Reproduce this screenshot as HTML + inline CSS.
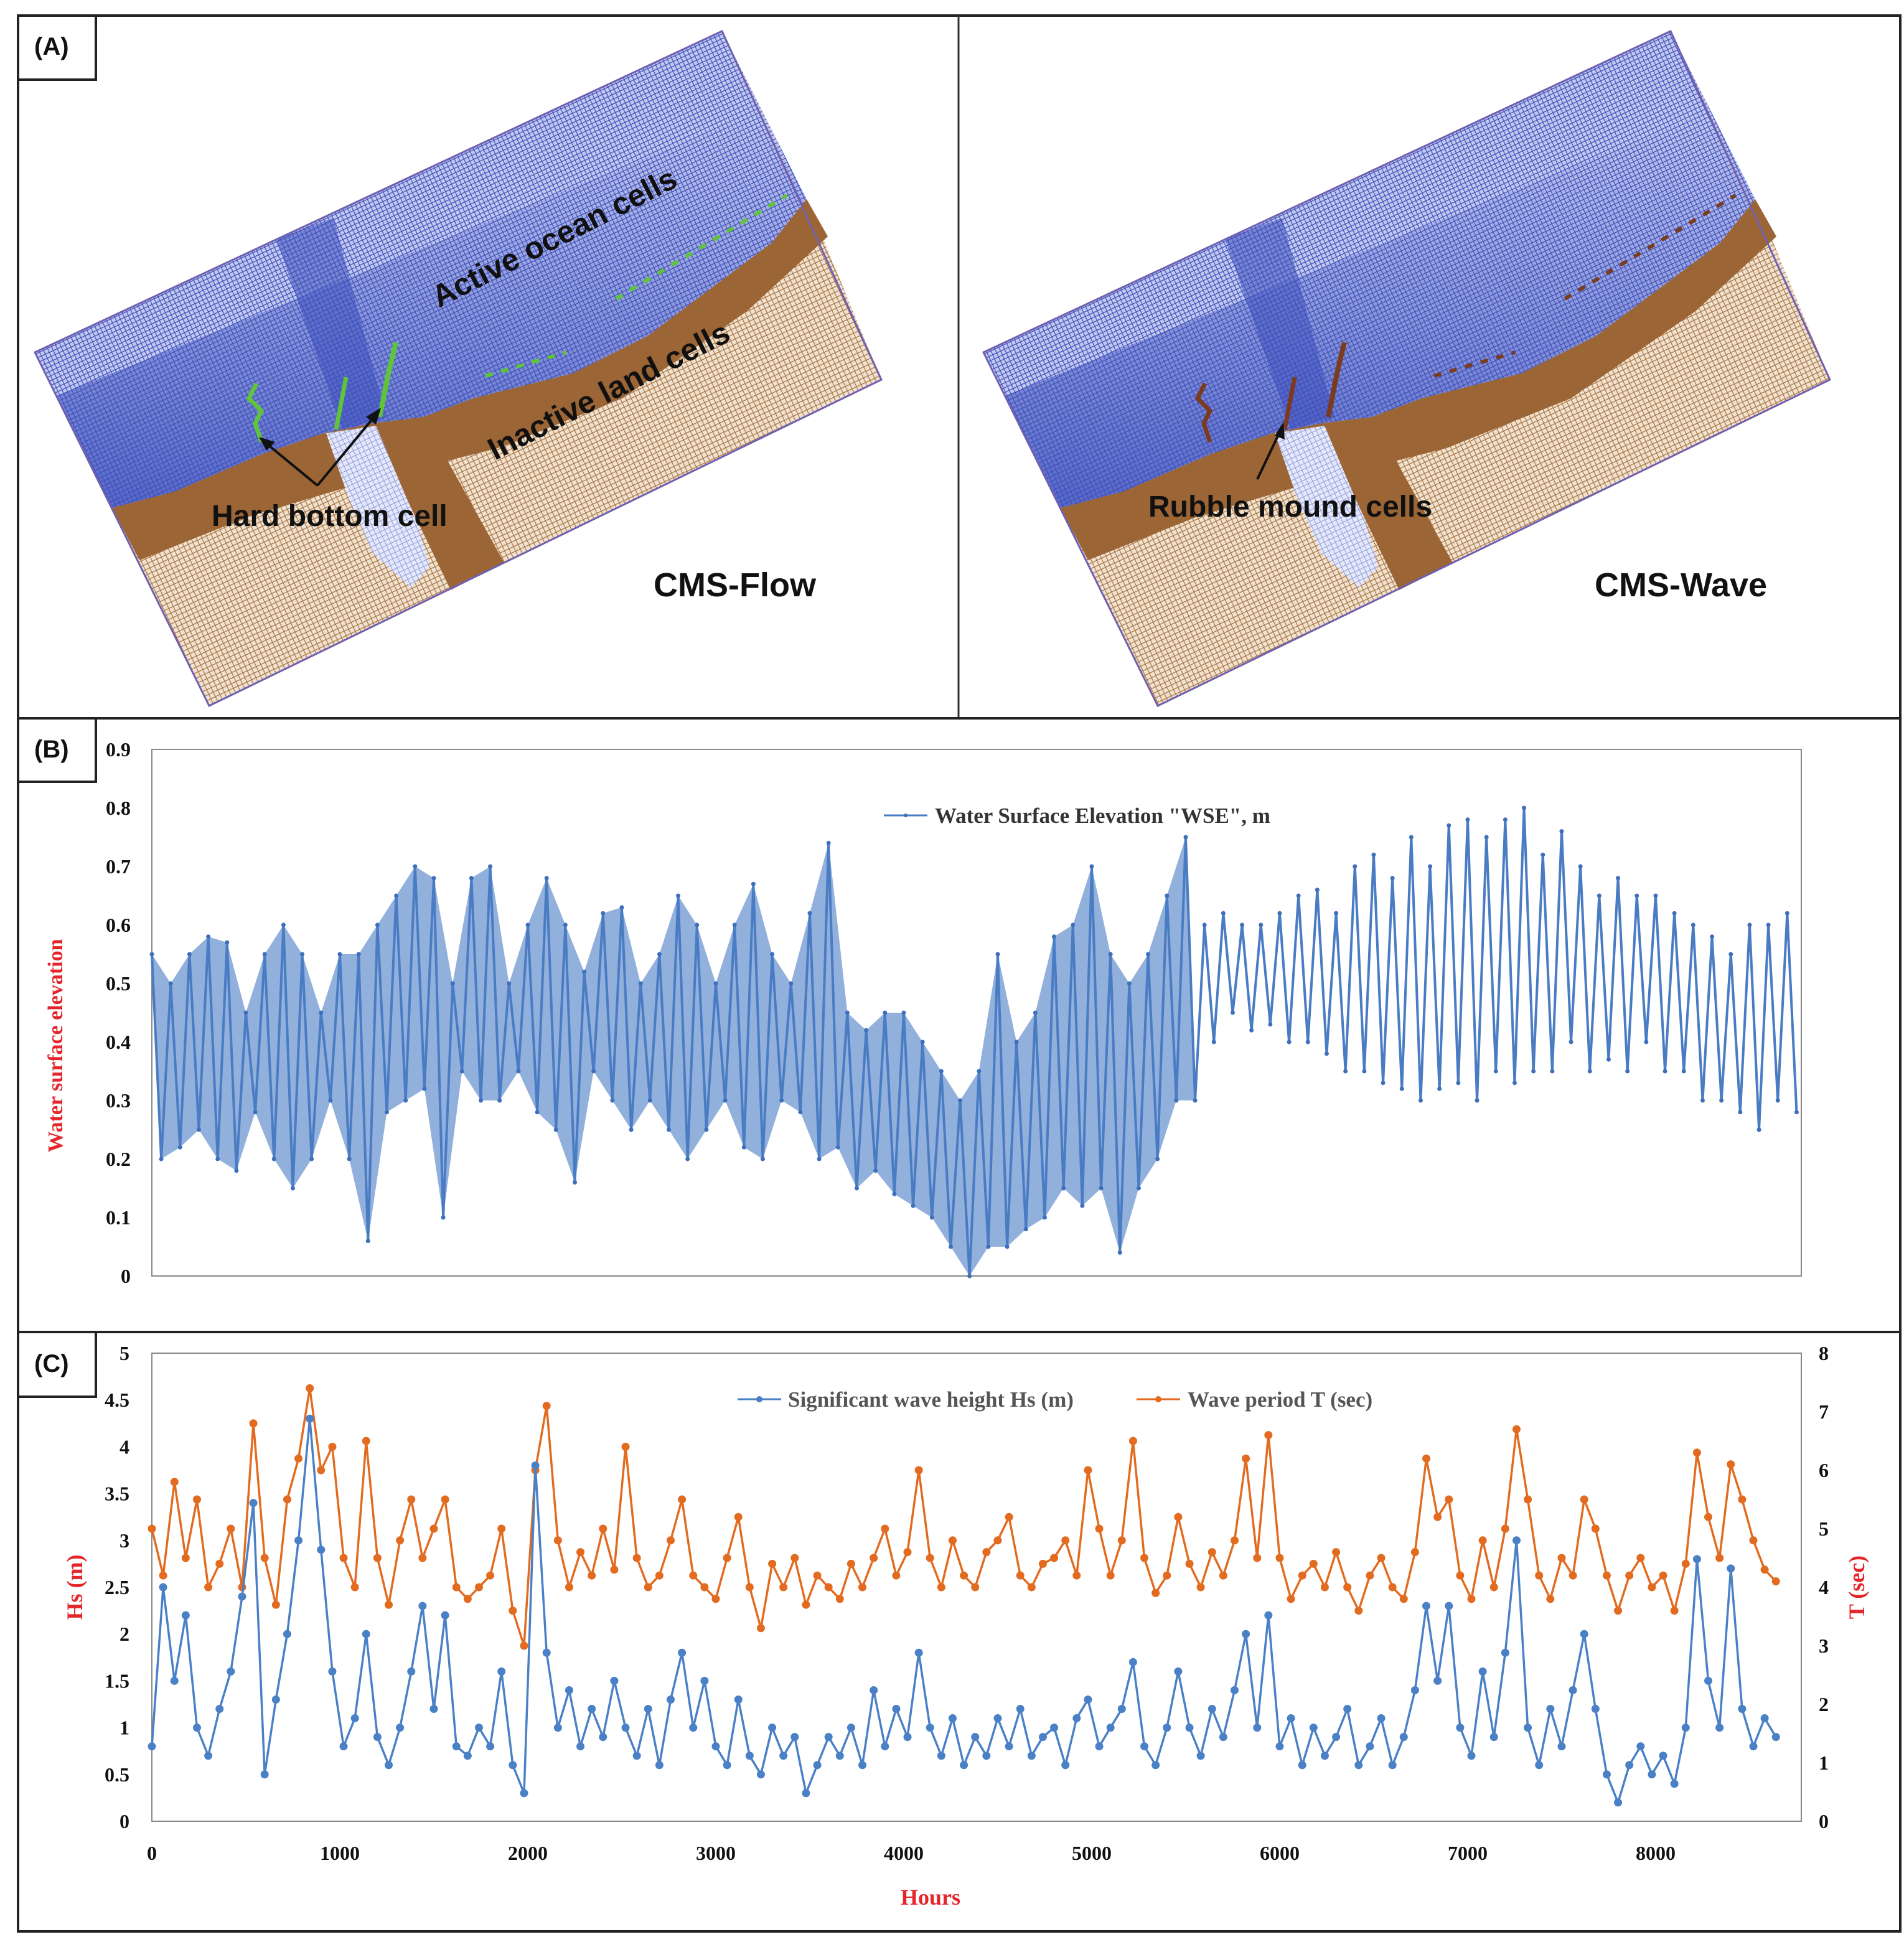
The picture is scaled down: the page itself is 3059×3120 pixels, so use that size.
<!DOCTYPE html>
<html><head><meta charset="utf-8"><style>
html,body{margin:0;padding:0;background:#fff}
svg{display:block}
</style></head><body>
<svg id="root" xmlns="http://www.w3.org/2000/svg" width="3059" height="3120" viewBox="0 0 3059 3120">
<defs>
<pattern id="oceanGrid" width="7" height="7" patternUnits="userSpaceOnUse" patternTransform="rotate(-25)">
<rect width="7" height="7" fill="#c2c8ee"/>
<path d="M0 0H7M0 0V7" stroke="#3c4fbc" stroke-width="2.4"/>
</pattern>
<pattern id="landGrid" width="8" height="8" patternUnits="userSpaceOnUse" patternTransform="rotate(-25)">
<rect width="8" height="8" fill="#f0e2d0"/>
<path d="M0 0H8M0 0V8" stroke="#a8733f" stroke-width="2.4"/>
</pattern>
<pattern id="channelGrid" width="8" height="8" patternUnits="userSpaceOnUse" patternTransform="rotate(-25)">
<rect width="8" height="8" fill="#e4e8f8"/>
<path d="M0 0H8M0 0V8" stroke="#8e9ade" stroke-width="2"/>
</pattern>
<linearGradient id="coastShade" x1="0" y1="0" x2="0" y2="1">
<stop offset="0" stop-color="#3c4fbc" stop-opacity="0"/>
<stop offset="1" stop-color="#3c4fbc" stop-opacity="0.8"/>
</linearGradient>
</defs>
<rect x="29" y="25" width="3024" height="3078" fill="none" stroke="#222" stroke-width="4"/>
<line x1="1540" y1="25" x2="1540" y2="1154" stroke="#333" stroke-width="3"/>
<line x1="29" y1="1154" x2="3053" y2="1154" stroke="#222" stroke-width="4"/>
<line x1="29" y1="2140" x2="3053" y2="2140" stroke="#222" stroke-width="4"/>

<g id="gridA"></g>
<g id="gridB"></g>

<g font-family="Liberation Sans, Arial, sans-serif" font-weight="bold" fill="#111">
<text x="0" y="0" font-size="50" transform="translate(705,495) rotate(-27)">Active ocean cells</text>
<text x="0" y="0" font-size="50" transform="translate(795,740) rotate(-27)">Inactive land cells</text>
<text x="340" y="845" font-size="48">Hard bottom cell</text>
<text x="1050" y="958" font-size="54">CMS-Flow</text>
<text x="1845" y="830" font-size="48">Rubble mound cells</text>
<text x="2562" y="958" font-size="54">CMS-Wave</text>
</g>
<g stroke="#111" stroke-width="4" fill="none">
<line x1="510" y1="780" x2="425" y2="710"/><line x1="510" y1="780" x2="605" y2="665"/>
<line x1="2020" y1="770" x2="2058" y2="690"/>
</g>
<g fill="#111"><polygon points="416,702 442,710 428,724"/><polygon points="612,655 604,682 588,670"/><polygon points="2062,678 2064,706 2048,700"/></g>

<g font-family="Liberation Sans, Arial, sans-serif" font-weight="bold" font-size="40" fill="#111">
<rect x="29" y="25" width="125" height="103" fill="#fff" stroke="#222" stroke-width="4"/>
<text x="55" y="88">(A)</text>
<rect x="29" y="1154" width="125" height="102" fill="#fff" stroke="#222" stroke-width="4"/>
<text x="55" y="1217">(B)</text>
<rect x="29" y="2140" width="125" height="104" fill="#fff" stroke="#222" stroke-width="4"/>
<text x="55" y="2204">(C)</text>
</g>

<g id="chartB"></g>
<g id="chartC"></g>
</svg>
<script>
// ===== Panel B data: water surface elevation envelope (per 100 h; hi at h, lo at h+50)
const wseStartHour = 0;
const wseStepHours = 100;
const wseDenseUntilHour = 5500;
const wseHi = [.55,.5,.55,.58,.57,.45,.55,.6,.55,.45,.55,.55,.6,.65,.7,.68,.5,.68,.7,.5,.6,.68,.6,.52,.62,.63,.5,.55,.65,.6,.5,.6,.67,.55,.5,.62,.74,.45,.42,.45,.45,.4,.35,.3,.35,.55,.4,.45,.58,.6,.7,.55,.5,.55,.65,.75,.6,.62,.6,.6,.62,.65,.66,.62,.7,.72,.68,.75,.7,.77,.78,.75,.78,.8,.72,.76,.7,.65,.68,.65,.65,.62,.6,.58,.55,.6,.6,.62];
const wseLo = [.2,.22,.25,.2,.18,.28,.2,.15,.2,.3,.2,.06,.28,.3,.32,.1,.35,.3,.3,.35,.28,.25,.16,.35,.3,.25,.3,.25,.2,.25,.3,.22,.2,.3,.28,.2,.22,.15,.18,.14,.12,.1,.05,0,.05,.05,.08,.1,.15,.12,.15,.04,.15,.2,.3,.3,.4,.45,.42,.43,.4,.4,.38,.35,.35,.33,.32,.3,.32,.33,.3,.35,.33,.35,.35,.4,.35,.37,.35,.4,.35,.35,.3,.3,.28,.25,.3,.28];
const wseTicks = ["0","0.1","0.2","0.3","0.4","0.5","0.6","0.7","0.8","0.9"];

// ===== Panel C data (per 60 h)
const waveStartHour = 0;
const waveStepHours = 60;
const hsValues = [0.8,2.5,1.5,2.2,1.0,0.7,1.2,1.6,2.4,3.4,0.5,1.3,2.0,3.0,4.3,2.9,1.6,0.8,1.1,2.0,0.9,0.6,1.0,1.6,2.3,1.2,2.2,0.8,0.7,1.0,0.8,1.6,0.6,0.3,3.8,1.8,1.0,1.4,0.8,1.2,0.9,1.5,1.0,0.7,1.2,0.6,1.3,1.8,1.0,1.5,0.8,0.6,1.3,0.7,0.5,1.0,0.7,0.9,0.3,0.6,0.9,0.7,1.0,0.6,1.4,0.8,1.2,0.9,1.8,1.0,0.7,1.1,0.6,0.9,0.7,1.1,0.8,1.2,0.7,0.9,1.0,0.6,1.1,1.3,0.8,1.0,1.2,1.7,0.8,0.6,1.0,1.6,1.0,0.7,1.2,0.9,1.4,2.0,1.0,2.2,0.8,1.1,0.6,1.0,0.7,0.9,1.2,0.6,0.8,1.1,0.6,0.9,1.4,2.3,1.5,2.3,1.0,0.7,1.6,0.9,1.8,3.0,1.0,0.6,1.2,0.8,1.4,2.0,1.2,0.5,0.2,0.6,0.8,0.5,0.7,0.4,1.0,2.8,1.5,1.0,2.7,1.2,0.8,1.1,0.9];
const tValues = [5.0,4.2,5.8,4.5,5.5,4.0,4.4,5.0,4.0,6.8,4.5,3.7,5.5,6.2,7.4,6.0,6.4,4.5,4.0,6.5,4.5,3.7,4.8,5.5,4.5,5.0,5.5,4.0,3.8,4.0,4.2,5.0,3.6,3.0,6.0,7.1,4.8,4.0,4.6,4.2,5.0,4.3,6.4,4.5,4.0,4.2,4.8,5.5,4.2,4.0,3.8,4.5,5.2,4.0,3.3,4.4,4.0,4.5,3.7,4.2,4.0,3.8,4.4,4.0,4.5,5.0,4.2,4.6,6.0,4.5,4.0,4.8,4.2,4.0,4.6,4.8,5.2,4.2,4.0,4.4,4.5,4.8,4.2,6.0,5.0,4.2,4.8,6.5,4.5,3.9,4.2,5.2,4.4,4.0,4.6,4.2,4.8,6.2,4.5,6.6,4.5,3.8,4.2,4.4,4.0,4.6,4.0,3.6,4.2,4.5,4.0,3.8,4.6,6.2,5.2,5.5,4.2,3.8,4.8,4.0,5.0,6.7,5.5,4.2,3.8,4.5,4.2,5.5,5.0,4.2,3.6,4.2,4.5,4.0,4.2,3.6,4.4,6.3,5.2,4.5,6.1,5.5,4.8,4.3,4.1];
const hsTicks = ["0","0.5","1","1.5","2","2.5","3","3.5","4","4.5","5"];
const tTicks = ["0","1","2","3","4","5","6","7","8"];
const hourTicks = ["0","1000","2000","3000","4000","5000","6000","7000","8000"];

const NS = "http://www.w3.org/2000/svg";
function mk(tag, attrs, parent){const e=document.createElementNS(NS,tag);for(const k in attrs)e.setAttribute(k,attrs[k]);parent.appendChild(e);return e;}

function drawGrid(gid, dx, edge){
  const g=document.getElementById(gid);
  const P=(pts)=>pts.map(p=>(2*p[0]+dx)+","+(2*p[1])).join(" ");
  const outer=[[28,283],[580,25],[708,305],[168,567]];
  const coast=[[90,408],[140,395],[210,365],[260,348],[300,340],[340,335],[380,320],[420,310],[460,300],[520,270],[560,240],[620,195],[648,160]];
  const land=mk('polygon',{points:P([...coast,[708,305],[168,567]]),fill:'url(#landGrid)'},g);
  
  
  const ocean=mk('polygon',{points:P([[28,283],[580,25],[648,160],...coast.slice().reverse()]),fill:'url(#oceanGrid)'},g);
  
  
  mk('polygon',{points:P([[45,318],[610,90],[648,160],...coast.slice().reverse()]),fill:'url(#coastShade)'},g);
  mk('polygon',{points:P([[222,192],[268,175],[310,335],[275,345]]),fill:'#3c4fbc',opacity:'0.55'},g);
  mk('polygon',{points:P([...coast,[665,190],[600,250],[500,320],[400,360],[300,385],[200,415],[112,450]]),fill:'#9b6535'},g);
  mk('polygon',{points:P([[300,345],[340,335],[405,452],[362,474]]),fill:'#9b6535'},g);
  mk('polygon',{points:P([[262,348],[302,342],[335,420],[345,455],[330,472],[300,445],[280,400]]),fill:'url(#channelGrid)'},g);
  mk('polygon',{points:P(outer),fill:'none',stroke:'#7060b0','stroke-width':3},g);
  const s=(x,y)=>(2*x+dx)+' '+(2*y);
  mk('path',{d:`M${s(210,355)} L${s(205,340)} L${s(210,330)} L${s(200,320)} L${s(206,308)}`,stroke:edge,'stroke-width':7,fill:'none'},g);
  mk('path',{d:`M${s(270,345)} L${s(278,303)}`,stroke:edge,'stroke-width':7,fill:'none'},g);
  mk('path',{d:`M${s(305,335)} L${s(312,300)} L${s(318,275)}`,stroke:edge,'stroke-width':8,fill:'none'},g);
  mk('path',{d:`M${s(390,302)} L${s(455,283)} M${s(495,240)} L${s(632,157)}`,stroke:edge,'stroke-width':6,'stroke-dasharray':'12 14',fill:'none'},g);
}
drawGrid('gridA',0,'#5ec43a');
drawGrid('gridB',1524,'#7a3b1f');

// ---- Panel B
(function(){
  const g=document.getElementById('chartB');
  const X0=244,X1=2894,Y0=2050,Y1=1204,HMAX=8775;
  const xs=h=>X0+(X1-X0)*h/HMAX, ys=v=>Y0+(Y1-Y0)*v/0.9;
  const frame=mk('rect',{x:X0,y:Y1,width:X1-X0,height:Y0-Y1,fill:'none',stroke:'#888','stroke-width':2},g);
  
  
  wseTicks.forEach((t,i)=>{
    const tx=mk('text',{x:210,y:ys(+t)+11,'text-anchor':'end','font-family':'Liberation Serif, serif','font-weight':'bold','font-size':32,fill:'#111'},g);
    tx.textContent=t;
    
    
  });
  const hiPts=wseHi.map((v,i)=>[xs(wseStartHour+i*wseStepHours),ys(v)]);
  const loPts=wseLo.map((v,i)=>[xs(wseStartHour+i*wseStepHours+wseStepHours/2),ys(v)]);
  const nd=wseHi.filter((v,i)=>wseStartHour+i*wseStepHours<=wseDenseUntilHour).length;
  const band=mk('polygon',{points:[...hiPts.slice(0,nd),...loPts.slice(0,nd).reverse()].map(p=>p.join(',')).join(' '),fill:'#4a7cc4',opacity:'0.6'},g);
  
  
  const pts=[];
  hiPts.forEach((p,i)=>{pts.push(p);pts.push(loPts[i]);});
  const line=mk('polyline',{points:pts.map(p=>p.join(',')).join(' '),fill:'none',stroke:'#4a7cc4','stroke-width':4},g);
  
  
  pts.forEach(p=>{const c=mk('circle',{cx:p[0],cy:p[1],r:3.5,fill:'#3d6fbb'},g);
    
    });
  const yt=mk('text',{x:0,y:0,transform:'translate(100,1680) rotate(-90)','text-anchor':'middle','font-family':'Liberation Serif, serif','font-weight':'bold','font-size':34,fill:'#e4252a'},g);
  yt.textContent='Water surface elevation';
  
  
  mk('line',{x1:1420,y1:1310,x2:1490,y2:1310,stroke:'#4a7cc4','stroke-width':3},g);
  mk('circle',{cx:1455,cy:1310,r:3,fill:'#3d6fbb'},g);
  const lg=mk('text',{x:1502,y:1322,'font-family':'Liberation Serif, serif','font-weight':'bold','font-size':35,fill:'#333'},g);
  lg.textContent='Water Surface Elevation "WSE", m';
  
  
})();

// ---- Panel C
(function(){
  const g=document.getElementById('chartC');
  const X0=244,X1=2894,Y0=2926,Y1=2174,HMAX=8775;
  const xs=h=>X0+(X1-X0)*h/HMAX, ysH=v=>Y0+(Y1-Y0)*v/5, ysT=v=>Y0+(Y1-Y0)*v/8;
  const frame=mk('rect',{x:X0,y:Y1,width:X1-X0,height:Y0-Y1,fill:'none',stroke:'#888','stroke-width':2},g);
  
  
  const F={'font-family':'Liberation Serif, serif','font-weight':'bold','font-size':32,fill:'#111'};
  hsTicks.forEach(t=>{const e=mk('text',Object.assign({x:208,y:ysH(+t)+11,'text-anchor':'end'},F),g);e.textContent=t;
    
    });
  tTicks.forEach(t=>{const e=mk('text',Object.assign({x:2922,y:ysT(+t)+11},F),g);e.textContent=t;
    
    });
  hourTicks.forEach(t=>{const e=mk('text',Object.assign({x:xs(+t),y:2988,'text-anchor':'middle'},F),g);e.textContent=t;
    
    });
  function series(vals,ys,col,name){
    const pts=vals.map((v,i)=>[xs(waveStartHour+i*waveStepHours),ys(v)]);
    const l=mk('polyline',{points:pts.map(p=>p.join(',')).join(' '),fill:'none',stroke:col,'stroke-width':3.5},g);
    
    
    pts.forEach(p=>{const c=mk('circle',{cx:p[0],cy:p[1],r:6.5,fill:col},g);
      
      });
  }
  series(tValues,ysT,'#e26b1f','wave-period-series');
  series(hsValues,ysH,'#4a80c6','hs-series');
  const yl=mk('text',{x:0,y:0,transform:'translate(132,2550) rotate(-90)','text-anchor':'middle','font-family':'Liberation Serif, serif','font-weight':'bold','font-size':36,fill:'#e4252a'},g);
  yl.textContent='Hs (m)';
  
  
  const yr=mk('text',{x:0,y:0,transform:'translate(2995,2550) rotate(-90)','text-anchor':'middle','font-family':'Liberation Serif, serif','font-weight':'bold','font-size':36,fill:'#e4252a'},g);
  yr.textContent='T (sec)';
  
  
  const xl=mk('text',{x:1495,y:3060,'text-anchor':'middle','font-family':'Liberation Serif, serif','font-weight':'bold','font-size':36,fill:'#e4252a'},g);
  xl.textContent='Hours';
  
  
  mk('line',{x1:1185,y1:2248,x2:1255,y2:2248,stroke:'#4a80c6','stroke-width':3},g);
  mk('circle',{cx:1220,cy:2248,r:5,fill:'#4a80c6'},g);
  const l1=mk('text',{x:1266,y:2260,'font-family':'Liberation Serif, serif','font-weight':'bold','font-size':35,fill:'#555'},g);
  l1.textContent='Significant wave height Hs (m)';
  
  
  mk('line',{x1:1826,y1:2248,x2:1896,y2:2248,stroke:'#e26b1f','stroke-width':3},g);
  mk('circle',{cx:1861,cy:2248,r:5,fill:'#e26b1f'},g);
  const l2=mk('text',{x:1908,y:2260,'font-family':'Liberation Serif, serif','font-weight':'bold','font-size':35,fill:'#555'},g);
  l2.textContent='Wave period T (sec)';
  
  
})();
</script>
</body></html>
